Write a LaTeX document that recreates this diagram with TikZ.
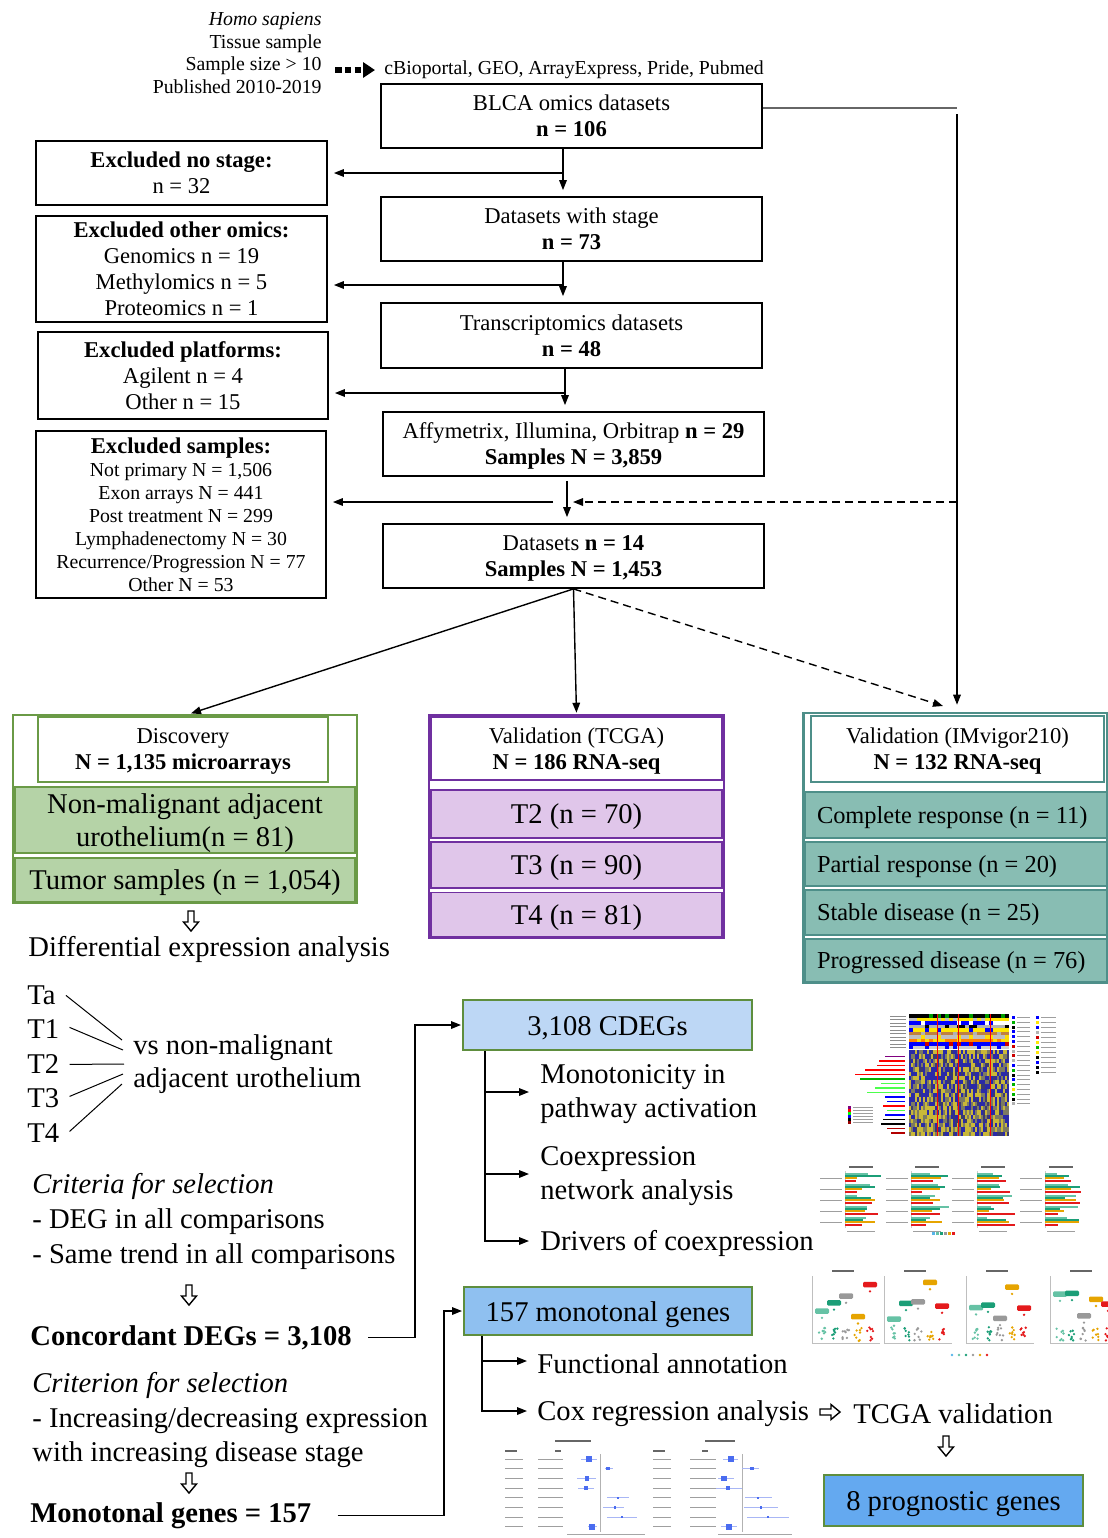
\documentclass[tikz,border=0pt]{standalone}
\usepackage{fontspec}
\setmainfont{Liberation Serif}
\usetikzlibrary{arrows.meta,calc}
\newcommand\fsz[2]{\fontsize{#1}{#2}\selectfont}
\definecolor{grn}{HTML}{6A9A46}
\definecolor{grnfill}{HTML}{B5D3A7}
\definecolor{pur}{HTML}{7030A0}
\definecolor{purfill}{HTML}{E0C6EA}
\definecolor{tealb}{HTML}{4E8F89}
\definecolor{tealfill}{HTML}{88BDB3}
\definecolor{bgrn}{HTML}{5E8E3E}
\definecolor{cdegfill}{HTML}{BDD7F5}
\definecolor{mfill}{HTML}{8FC0F0}
\definecolor{pfill}{HTML}{64A9F0}
\definecolor{hmb}{HTML}{2A2AA8}
\definecolor{hmy}{HTML}{C9B838}
\definecolor{hmg}{HTML}{7C7A62}
\definecolor{hmk}{HTML}{3A3A70}
\definecolor{bt1}{HTML}{66C2A5}
\definecolor{bt2}{HTML}{1B9E77}
\definecolor{bt3}{HTML}{E6A400}
\definecolor{bt4}{HTML}{E41A1C}
\definecolor{dgray}{HTML}{999999}
\definecolor{dblue}{HTML}{56B4E9}
\definecolor{fsq}{HTML}{4A6CF0}
\definecolor{fci}{HTML}{A8B6F5}
\begin{document}
\begin{tikzpicture}[x=0.5pt,y=-0.5pt,
  arr/.style={line width=0.7pt, -{Triangle[length=5pt,width=3.8pt]}, shorten >=3pt},
  box/.style={draw, line width=0.9pt, align=center, inner sep=0pt, font=\fsz{11.3}{13}, text depth=0pt},
  txt/.style={inner sep=0pt, anchor=west, align=left, font=\fsz{14.3}{17}, yshift=-1.2pt},
  gbox/.style={draw=bgrn, line width=1pt, inner sep=0pt, font=\fsz{14.3}{17}, text height=10pt, text depth=0pt},
  dband/.style={draw=grn, fill=grnfill, line width=0.7pt, inner sep=0pt, align=center, font=\fsz{14.3}{16.5}, minimum width=170pt, text depth=0pt},
  tband/.style={draw=pur, fill=purfill, line width=0.9pt, inner sep=0pt, align=center, font=\fsz{14.3}{16.5}, minimum width=145.5pt, text depth=0pt},
  iband/.style={draw=tealb, fill=tealfill, line width=0.7pt, inner xsep=6pt, inner ysep=0pt, text width=139pt, align=flush left, font=\fsz{12.2}{14}, text depth=0pt},
  tiny/.style={line width=0.5pt, draw=gray!75},
  fline/.style={line width=0.5pt, draw=fci},
  darr/.pic={\draw[line width=0.7pt, line join=miter] (-3,-10) -- (3,-10) -- (3,1) -- (7.5,1) -- (0,10) -- (-7.5,1) -- (-3,1) -- cycle;},
  rarr/.pic={\draw[line width=0.7pt, line join=miter] (-10,-3) -- (1,-3) -- (1,-7.5) -- (10,0) -- (1,7.5) -- (1,3) -- (-10,3) -- cycle;},
]
\useasboundingbox (0,0) rectangle (1108,1538);

% ---------- top ----------
\node[anchor=east, inner sep=0pt, align=right, font=\fsz{9.9}{11.35}] (crit) at (322,53)
  {\textit{Homo sapiens}\\Tissue sample\\Sample size > 10\\Published 2010-2019};
\node[anchor=west, inner sep=0pt, font=\fsz{9.9}{11.3}] (src) at (384,70)
  {cBioportal, GEO, ArrayExpress, Pride, Pubmed};
\draw[line width=3.3pt, dash pattern=on 3.3pt off 1.6pt, -{Triangle[length=6pt,width=7.5pt]}]
  ([xshift=6.5pt]crit.east |- src.west) -- ([xshift=-4.5pt]src.west);

\node[box, minimum width=190.5pt, minimum height=32pt] (blca) at (571.5,116) {BLCA omics datasets\\\textbf{n = 106}};
\node[box, minimum width=190.5pt, minimum height=32pt] (b2) at (571.5,229) {Datasets with stage\\\textbf{n = 73}};
\node[box, minimum width=190.5pt, minimum height=32.5pt] (b3) at (571.5,335.5) {Transcriptomics datasets\\\textbf{n = 48}};
\node[box, minimum width=190.5pt, minimum height=32pt] (b4) at (573.5,444) {Affymetrix, Illumina, Orbitrap \textbf{n = 29}\\\textbf{Samples N = 3,859}};
\node[box, minimum width=190.5pt, minimum height=32pt] (b5) at (573.5,556) {Datasets \textbf{n = 14}\\\textbf{Samples N = 1,453}};

\node[box, minimum width=145.5pt, minimum height=32pt] (ex1) at (181.5,173) {\textbf{Excluded no stage:}\\n = 32};
\node[box, minimum width=145.5pt, minimum height=53pt] (ex2) at (181.5,269) {\textbf{Excluded other omics:}\\Genomics n = 19\\Methylomics n = 5\\Proteomics n = 1};
\node[box, minimum width=145pt, minimum height=43.5pt] (ex3) at (183,375.5) {\textbf{Excluded platforms:}\\Agilent n = 4\\Other n = 15};
\node[box, minimum width=145pt, minimum height=83.5pt, font=\fsz{9.9}{11.5}] (ex4) at (181,514.5)
  {{\fsz{11.3}{13}\bfseries Excluded samples:}\\Not primary N = 1,506\\Exon arrays N = 441\\Post treatment N = 299\\Lymphadenectomy N = 30\\Recurrence/Progression N = 77\\Other N = 53};

\coordinate (j1) at (563,173);
\coordinate (j2) at (563,285);
\coordinate (j3) at (565,393);
\coordinate (j4) at (553,502);
\coordinate (j4v) at (567,502);
\draw[arr] (blca.south -| j1) -- (b2.north -| j1);
\draw[arr] (b2.south -| j2) -- (b3.north -| j2);
\draw[arr] (b3.south -| j3) -- (b4.north -| j3);
\draw[arr] ([yshift=-2pt]b4.south -| j4v) -- (b5.north -| j4v);
\draw[arr] (j1) -- (j1 -| ex1.east);
\draw[arr] (j2) -- (j2 -| ex2.east);
\draw[arr] (j3) -- (j3 -| ex3.east);
\draw[arr] (j4) -- (j4 -| ex4.east);

% ---------- groups ----------
\node[draw=grn, fill=white, line width=1.3pt, minimum width=172pt, minimum height=94pt, inner sep=0pt] (discout) at (185,809) {};
\node[box, draw=grn, fill=white, line width=1.1pt, minimum width=145pt, minimum height=32.5pt] (discin) at (183,749.5) {Discovery\\\textbf{N = 1,135 microarrays}};
\node[dband, minimum height=33pt] (nm) at (185,820) {Non-malignant adjacent\\urothelium(n = 81)};
\node[dband, minimum height=22pt] (tum) at (185,880) {Tumor samples (n = 1,054)};

\node[draw=pur, fill=white, line width=1.3pt, minimum width=147.5pt, minimum height=111.5pt, inner sep=0pt] (tcgaout) at (576.5,826.5) {};
\node[box, draw=pur, fill=white, line width=1.4pt, minimum width=145.5pt, minimum height=31.5pt] (tcgain) at (576.5,748.5) {Validation (TCGA)\\\textbf{N = 186 RNA-seq}};
\node[tband, minimum height=24pt] (t2b) at (576.5,814) {T2 (n = 70)};
\node[tband, minimum height=23pt] (t3b) at (576.5,865) {T3 (n = 90)};
\node[tband, minimum height=22pt] (t4b) at (576.5,914.5) {T4 (n = 81)};

\node[draw=tealb, fill=white, line width=1.3pt, minimum width=152pt, minimum height=135pt, inner sep=0pt] (imvout) at (955.5,848) {};
\node[box, draw=tealb, fill=white, line width=1.2pt, minimum width=146.5pt, minimum height=33pt] (imvin) at (957.5,749) {Validation (IMvigor210)\\\textbf{N = 132 RNA-seq}};
\node[iband, minimum height=23pt] (cr) at (956,815) {Complete response (n = 11)};
\node[iband, minimum height=22pt] (pr) at (956,864) {Partial response (n = 20)};
\node[iband, minimum height=22.5pt] (sd) at (956,912.5) {Stable disease (n = 25)};
\node[iband, minimum height=21.5pt] (pd) at (956,960.5) {Progressed disease (n = 76)};

% connectors to groups
\coordinate (rc) at (957,108);
\coordinate (rv) at (957,114);
\coordinate (dj) at (957,502);
\coordinate (dtip) at (943,706);
\draw[line width=0.6pt, draw=gray!80!black] (blca.east |- rc) -- (rc);
\draw[arr, shorten >=3.5pt] (rv) -- (imvout.north -| rv);
\draw[arr, dashed, dash pattern=on 4pt off 2.5pt] (dj) -- (j4v);
\draw[arr, shorten >=0.5pt] (b5.south) -- ([xshift=2.5pt]discout.north);
\draw[arr, shorten >=0.5pt] (b5.south) -- (tcgaout.north);
\draw[arr, dashed, dash pattern=on 4pt off 2.5pt, shorten >=0pt] (b5.south) -- (dtip);

% ---------- left bottom ----------
\pic at (191,921) {darr};
\node[txt] (dea) at (28,947) {Differential expression analysis};
\node[txt] (ta) at (27,993) {Ta};
\node[txt] (t1) at (27,1027) {T1};
\node[txt] (t2) at (27,1062) {T2};
\node[txt] (t3) at (27,1096) {T3};
\node[txt] (t4) at (27,1131) {T4};
\node[txt, font=\fsz{14.3}{16.5}] (vs) at (133,1061.5) {vs non-malignant\\adjacent urothelium};
\coordinate (v1) at (122,1040);
\coordinate (v2) at (123,1050);
\coordinate (v3) at (124,1064);
\coordinate (v4) at (123,1074);
\coordinate (v5) at (122,1084);
\draw[line width=0.5pt] ([xshift=5pt]ta.east) -- (v1);
\draw[line width=0.5pt] ([xshift=5pt,yshift=1pt]t1.east) -- (v2);
\draw[line width=0.5pt] ([xshift=5pt]t2.east) -- (v3);
\draw[line width=0.5pt] ([xshift=5pt,yshift=1pt]t3.east) -- (v4);
\draw[line width=0.5pt] ([xshift=5pt,yshift=1pt]t4.east) -- (v5);

\node[txt] (crit1) at (32,1184) {\textit{Criteria for selection}};
\node[txt] (deg) at (32,1219) {- DEG in all comparisons};
\node[txt] (same) at (32,1254) {- Same trend in all comparisons};
\pic at (189,1295) {darr};
\node[txt] (conc) at (30,1335) {\textbf{Concordant DEGs = 3,108}};
\node[txt] (crit2) at (32,1383) {\textit{Criterion for selection}};
\node[txt] (inc) at (32,1418) {- Increasing/decreasing expression};
\node[txt] (wi) at (32,1452) {with increasing disease stage};
\pic at (189,1483) {darr};
\node[txt] (mon) at (30,1513) {\textbf{Monotonal genes = 157}};

% ---------- right bottom ----------
\node[gbox, fill=cdegfill, minimum width=144.5pt, minimum height=25pt] (cdeg) at (607.5,1025) {3,108 CDEGs};
\coordinate (k1) at (415,1025);
\draw[arr, shorten >=0.5pt] ([xshift=8pt]conc.east) -| (k1) -- (cdeg.west);
\node[txt] (mono) at (540,1092) {Monotonicity in\\pathway activation};
\node[txt] (coex) at (540,1174) {Coexpression\\network analysis};
\node[txt] (drv) at (540,1241) {Drivers of coexpression};
\coordinate (tr1) at ([xshift=11.5pt]cdeg.south west);
\draw[arr, shorten >=5.5pt] (tr1) |- ([yshift=1.2pt]mono.west);
\draw[arr, shorten >=5.5pt] (tr1) |- ([yshift=1.2pt]coex.west);
\draw[arr, shorten >=5.5pt] (tr1) |- ([yshift=1.2pt]drv.west);

\node[gbox, fill=mfill, minimum width=144pt, minimum height=24pt] (m157) at (608,1311) {157 monotonal genes};
\coordinate (k2) at (444,1311);
\draw[arr, shorten >=0.5pt] ([xshift=13pt]mon.east) -| (k2) -- (m157.west);
\node[txt] (func) at (537,1361) {Functional annotation};
\node[txt] (cox) at (537,1411) {Cox regression analysis};
\coordinate (tr2) at ([xshift=9.5pt]m157.south west);
\draw[arr, shorten >=5pt] (tr2) |- ([yshift=1.2pt]func.west);
\draw[arr, shorten >=5pt] (tr2) |- ([yshift=1.2pt]cox.west);
\pic at (830,1412) {rarr};
\node[txt] (tv) at (853,1411) {TCGA validation};
\pic at (946,1446) {darr};
\node[gbox, fill=pfill, minimum width=129.5pt, minimum height=25.5pt] (p8) at (953.5,1500.5) {8 prognostic genes};

% ---------- thumbnail: heatmap ----------
\begin{scope}
\pgfmathsetseed{11}
\foreach \i in {0,...,49}{
  \foreach \j in {0,...,19}{
    \pgfmathrandominteger{\r}{0}{9}
    \ifnum\j>12 \pgfmathrandominteger{\r}{2}{9}\fi
    \ifnum\r<4 \def\cc{hmb}\else\ifnum\r<7 \def\cc{hmy}\else\ifnum\r<9 \def\cc{hmg}\else\def\cc{hmk}\fi\fi\fi
    \fill[\cc] ({909+\i*2},{1050+\j*4.3}) rectangle ++(2.05,4.35);
  }
}
\foreach \j/\ca/\cb in {0/black/green!60!black,1/yellow!90!orange/gray!50,2/blue/white,3/gray!60/black,4/yellow!90!orange/blue,5/brown/gray!60,6/gray!50/yellow!80!orange,7/orange/yellow!80!orange,8/blue/red!80!black,9/gray!40/blue}{
  \foreach \i in {0,...,24}{
    \pgfmathrandominteger{\r}{0}{9}
    \ifnum\r<7 \def\cc{\ca}\else\def\cc{\cb}\fi
    \fill[\cc] ({909+\i*4},{1014+\j*3.5}) rectangle ++(4.05,3.55);
  }
}
\foreach \x in {937,958,990}{\draw[red, line width=0.4pt] (\x,1014) -- (\x,1136);}
\foreach \j in {0,...,9}{\draw[tiny, draw=gray!90] (890,{1016+\j*3.5}) -- (906,{1016+\j*3.5});}
\foreach \c/\l [count=\k] in {violet/20,red/26,red/28,red/40,red/50,green!70!black/45,green!70/24,green!70/30,green!70/38,blue/20,blue/18,red/22,green!70/18,blue/20,black/22,black/24,red!70!black/18,red!70!black/14}{
  \draw[\c, line width=0.6pt] ({905-\l},{1052+\k*4.5}) -- (905,{1052+\k*4.5});
}
\foreach \c [count=\k] in {violet,red,green,blue,black,red!60!black}{
  \fill[\c] (848,{1103+\k*3}) rectangle ++(3,2.5);
  \draw[tiny] (853,{1104.2+\k*3}) -- (873,{1104.2+\k*3});
}
\foreach \j in {0,...,18}{
  \pgfmathrandominteger{\r}{0}{5}
  \ifcase\r \def\cc{black}\or\def\cc{yellow!90!orange}\or\def\cc{blue}\or\def\cc{gray!60}\or\def\cc{red!80!black}\or\def\cc{green!70!black}\fi
  \fill[\cc] (1012,{1016+\j*4.8}) rectangle ++(3,3);
  \draw[tiny] (1017,{1017.5+\j*4.8}) -- (1030,{1017.5+\j*4.8});
}
\foreach \j in {0,...,11}{
  \pgfmathrandominteger{\r}{0}{5}
  \ifcase\r \def\cc{black}\or\def\cc{yellow!90!orange}\or\def\cc{blue}\or\def\cc{gray!60}\or\def\cc{red!80!black}\or\def\cc{green!70!black}\fi
  \fill[\cc] (1036,{1016+\j*5}) rectangle ++(3,3);
  \draw[tiny] (1041,{1017.5+\j*5}) -- (1056,{1017.5+\j*5});
}
\end{scope}

% ---------- thumbnail: bar charts ----------
\begin{scope}
\pgfmathsetseed{5}
\foreach \x in {845,911,977,1045}{
  \draw[line width=0.8pt, draw=gray!80!black] ({\x+4},1167) -- ++(24,0);
  \draw[line width=0.3pt, draw=gray!40] (\x,1171) -- (\x,1228);
  \foreach \g in {0,...,4}{
    \draw[tiny] ({\x-25},{1178+\g*11}) -- ({\x-3},{1178+\g*11});
    \foreach \b/\c in {0/bt1,1/bt2,2/bt3,3/bt4}{
      \pgfmathsetmacro\len{10+28*rnd}
      \fill[\c] (\x,{1173+\g*11+\b*2.2}) rectangle ++(\len,2);
    }
  }
  \draw[tiny] ({\x+2},1231) -- ({\x+30},1231);
}
\foreach \c [count=\k] in {dblue,bt1,bt2,dgray,bt3,bt4}{\fill[\c] ({928+\k*4},1232) rectangle ++(2.5,3);}
\end{scope}

% ---------- thumbnail: dot plots ----------
\begin{scope}
\clip (795,1265) rectangle (1108,1362);
\pgfmathsetseed{3}
\foreach \x in {812,884,966,1050}{
  \draw[line width=0.8pt, draw=gray!80!black] ({\x+20},1271) -- ++(22,0);
  \draw[line width=0.3pt, draw=gray!50] (\x,1276) -- (\x,1343) -- ({\x+68},1343);
  \foreach \c [count=\k] in {bt1,bt2,dgray,bt3,bt4}{
    \pgfmathsetmacro\cx{\x+\k*12-2}
    \foreach \n in {1,...,8}{\fill[\c] ({\cx+rnd*7-3.5},{1341-rnd*14}) circle (1.3);}
    \pgfmathsetmacro\hy{1282+rnd*40}
    \fill[\c] (\cx,{\hy+7}) circle (1.3);
    \fill[\c, rounded corners=0.6pt] ({\cx-7},{\hy-2.5}) rectangle ++(14,5.5);
  }
}
\foreach \c [count=\k] in {dblue,bt1,bt2,dgray,bt3,bt4}{\fill[\c] ({945+\k*7},1355) circle (1.3);}
\end{scope}

% ---------- thumbnail: forest plots ----------
\begin{scope}
\draw[line width=0.9pt, draw=gray!80!black] (555,1441) -- ++(36,0);
\draw[line width=0.9pt, draw=gray!80!black] (705,1441) -- ++(30,0);
\draw[line width=0.6pt, draw=gray!80!black] (505,1451) -- ++(12,0);
\draw[line width=0.6pt, draw=gray!80!black] (555,1451) -- ++(6,0);
\draw[line width=0.6pt, draw=gray!80!black] (653,1451) -- ++(12,0);
\draw[line width=0.6pt, draw=gray!80!black] (702,1451) -- ++(6,0);
\draw[line width=0.3pt, draw=gray!60] (600,1454) -- (600,1532);
\draw[line width=0.3pt, draw=gray!60] (742,1454) -- (742,1532);
\draw[line width=0.3pt, draw=gray!70] (567,1534) -- (645,1534);
\draw[line width=0.3pt, draw=gray!70] (718,1534) -- (792,1534);
\foreach \i/\sx/\la/\lb/\s in {1/589/581/597/2.6,2/608/605/613/1.6,3/587/577/596/2.2,4/586/578/594/2.2,5/618/607/629/1.2,6/615/603/624/1.4,7/622/607/637/1.2,8/592/588/597/3}{
  \pgfmathsetmacro\yy{1459+9.7*(\i-1)}
  \draw[fline] (\la,\yy) -- (\lb,\yy);
  \fill[fsq] ({\sx-\s},{\yy-\s}) rectangle ({\sx+\s},{\yy+\s});
  \draw[tiny] (505,\yy) -- (523,\yy);
  \draw[tiny] (538,\yy) -- (563,\yy);
}
\foreach \i/\sx/\la/\lb/\s in {1/731/723/738/2.6,2/752/742/759/1.6,3/724/718/734/2.6,4/728/715/742/1.8,5/758/745/772/1.2,6/761/744/778/1.2,7/768/747/789/1.2,8/729/721/737/2.8}{
  \pgfmathsetmacro\yy{1459+9.7*(\i-1)}
  \draw[fline] (\la,\yy) -- (\lb,\yy);
  \fill[fsq] ({\sx-\s},{\yy-\s}) rectangle ({\sx+\s},{\yy+\s});
  \draw[tiny] (653,\yy) -- (671,\yy);
  \draw[tiny] (690,\yy) -- (716,\yy);
}
\end{scope}
\end{tikzpicture}
\end{document}
